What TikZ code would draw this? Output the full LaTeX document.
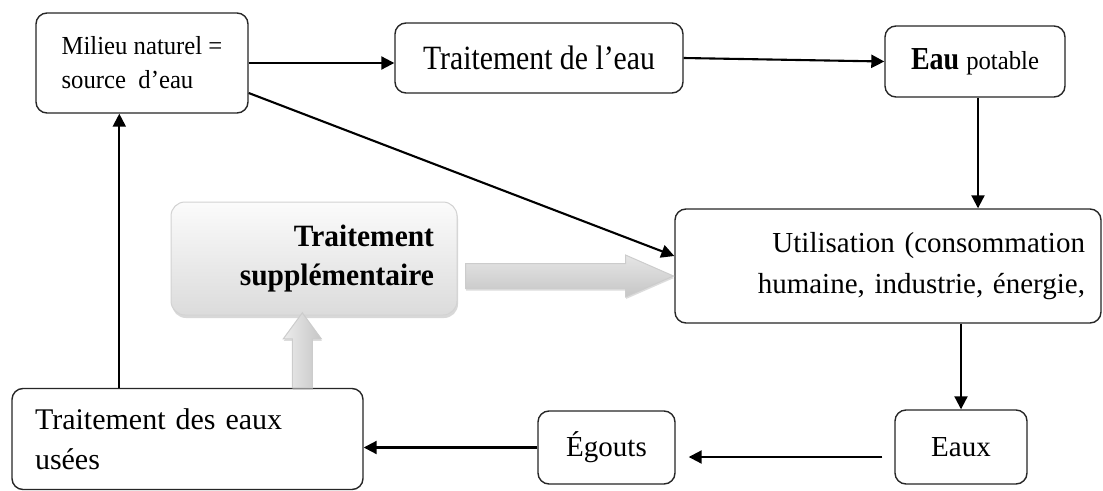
\documentclass[tikz,border=0pt]{standalone}
\usepackage{fontspec}
\setmainfont{Liberation Serif}
\newfontfamily\narrowA[FakeStretch=0.95]{Liberation Serif}
\newfontfamily\narrowB[FakeStretch=0.875]{Liberation Serif}
\usetikzlibrary{arrows.meta,calc,shadows}

\begin{document}
\begin{tikzpicture}[x=1pt,y=-1pt,
  box/.style={draw=black!85,line width=1.4pt,rounded corners=11pt,fill=white,inner sep=0pt},
  flow/.style={-{Triangle[length=13pt,width=13pt]},line width=2.1pt,black},
  block/.style={draw=gray!40,line width=1pt,
    drop shadow={shadow xshift=0.5pt,shadow yshift=-2pt,fill=gray!60,opacity=0.45}},
  softbox/.style={box,draw=gray!35,line width=1pt,rounded corners=14pt,
    top color=gray!3,bottom color=gray!28,
    drop shadow={shadow xshift=1pt,shadow yshift=-3pt,fill=gray!60,opacity=0.5}}]
\useasboundingbox (0,0) rectangle (1103,490);

% boxes
\node[box,minimum width=212pt,minimum height=100pt,align=left,
  font=\narrowA\fontsize{26}{34}\selectfont] (mil) at (142,63) {Milieu naturel =\\source~ d’eau};
\node[box,minimum width=288pt,minimum height=70pt,
  font=\narrowB\fontsize{34}{40}\selectfont] (tde) at (539,58) {Traitement de l’eau};
\node[box,minimum width=180pt,minimum height=71pt,
  font=\narrowB\fontsize{32}{38}\selectfont] (ep) at (975,61.5)
  {\textbf{Eau} {\narrowA\fontsize{26}{30}\selectfont potable}};
\node[softbox,minimum width=286pt,minimum height=113pt,text width=240pt,align=right,
  font=\narrowA\bfseries\fontsize{31}{39}\selectfont] (ts) at (314,258.5) {Traitement\\supplémentaire};
\node[box,minimum width=426pt,minimum height=114pt,text width=394pt,align=right,
  font=\fontsize{29}{41}\selectfont] (use) at (888,266) {Utilisation (consommation\\humaine, industrie, énergie,};
\node[box,minimum width=132pt,minimum height=74pt,font=\fontsize{29}{35}\selectfont] (eaux) at (961,447) {Eaux};
\node[box,minimum width=137pt,minimum height=73pt,font=\fontsize{29}{35}\selectfont] (ego) at (606.5,447.5) {Égouts};
\node[box,minimum width=351pt,minimum height=101pt,text width=305pt,align=left,
  font=\fontsize{30}{40}\selectfont] (tdeu) at (187.5,439) {Traitement des eaux\\usées};

% flow lines
\draw[flow] (mil.east) -- (mil.east -| tde.west);
\draw[flow] (tde.east) -- (ep.west);
\draw[flow] ($(ep.south)+(3,0)$) coordinate (epd) -- (epd |- use.north);
\draw[flow] ($(mil.east)+(0,30)$) -- ($(use.west)+(0,-10)$);
\draw[flow] (eaux.north |- use.south) -- (eaux.north);
\draw[flow,shorten >=13pt] ($(eaux.west)+(-12,10)$) coordinate (ew) -- (ew -| ego.east);
\draw[flow] (ego.west) -- (ego.west -| tdeu.east);
\draw[flow] ($(tdeu.north west)+(108,0)$) coordinate (tu) -- (tu |- mil.south);

% hollow block arrows
\coordinate (hb) at ($(ts.east)+(8,17.5)$);
\begin{scope}[shift={(hb)}]
  \path[block,top color=gray!20,middle color=gray!3,bottom color=gray!45]
    (0,-12.5) -- (160,-12.5) -- (160,-21) -- (208,0) -- (160,21) -- (160,12.5) -- (0,12.5) -- cycle;
\end{scope}
\coordinate (vb) at ($(tdeu.north west)+(291,0)$);
\begin{scope}[shift={(vb)}]
  \path[block,left color=gray!15,middle color=gray!3,right color=gray!45]
    (-10,0) -- (-10,-49) -- (-19,-49) -- (0,-75) -- (19,-49) -- (10,-49) -- (10,0) -- cycle;
\end{scope}
\end{tikzpicture}
\end{document}
